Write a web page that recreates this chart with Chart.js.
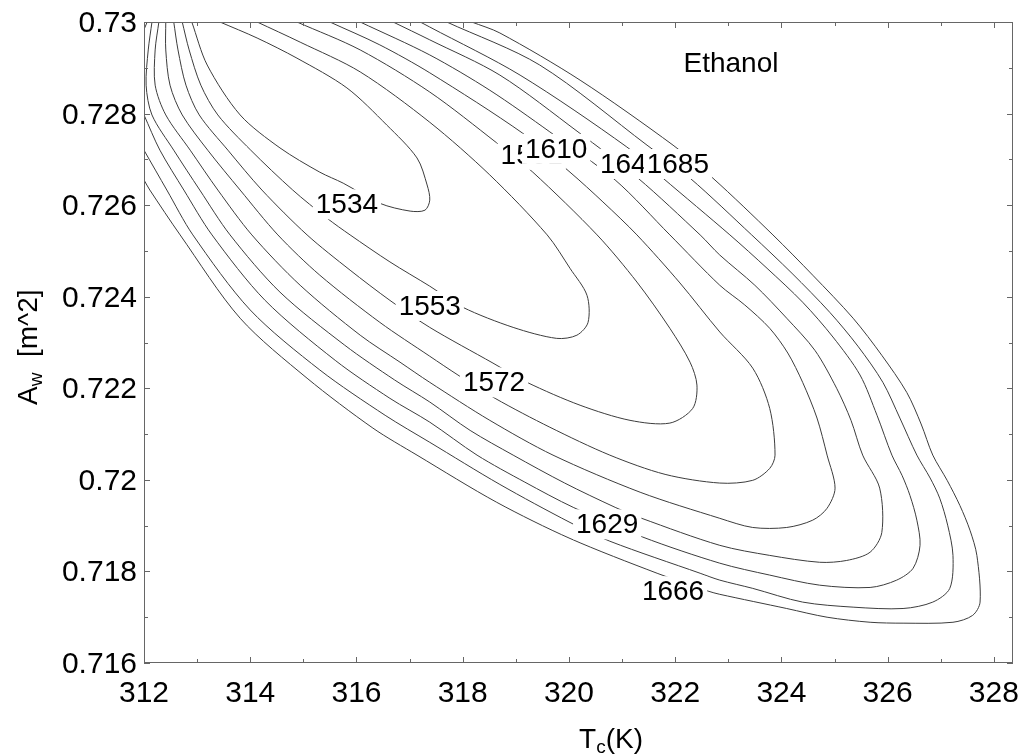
<!DOCTYPE html>
<html>
<head>
<meta charset="utf-8">
<title>Ethanol contour</title>
<script src="https://cdn.jsdelivr.net/npm/chart.js@4.4.1/dist/chart.umd.min.js"></script>
<style>
  html, body { margin: 0; padding: 0; background: #fff; }
  canvas { display: block; }
</style>
</head>
<body>
<canvas id="contourChart" width="1032" height="756"></canvas>
<script>
// contour levels and the traced lines, [Tc (K), Aw (m^2)]; [null, null] = line leaves the plot
const levels = [1534, 1553, 1572, 1591, 1610, 1629, 1647, 1666, 1685];

const c1534 = [[312.90,0.73000],[313.19,0.72906],[313.81,0.72797],[314.56,0.72725],[315.31,0.72672],[315.75,0.72648],[316.44,0.72604],[317.01,0.72587],[317.29,0.72589],[317.38,0.72611],[317.33,0.72644],[317.14,0.72703],[316.57,0.72775],[315.82,0.72856],[314.88,0.72921],[314.13,0.72965],[313.43,0.73000]];
const c1553 = [[312.72,0.73000],[312.85,0.72939],[313.07,0.72862],[313.39,0.72797],[314.01,0.72720],[314.80,0.72633],[315.44,0.72572],[315.88,0.72535],[316.63,0.72476],[317.38,0.72423],[318.00,0.72377],[318.95,0.72333],[319.77,0.72309],[320.15,0.72316],[320.36,0.72344],[320.34,0.72403],[320.02,0.72462],[319.59,0.72535],[318.51,0.72666],[317.38,0.72781],[316.07,0.72891],[314.94,0.72956],[314.13,0.73000]];
const c1572 = [[312.56,0.73000],[312.64,0.72939],[312.79,0.72862],[313.04,0.72797],[313.58,0.72720],[314.22,0.72633],[315.07,0.72535],[315.88,0.72458],[316.63,0.72392],[317.38,0.72333],[318.57,0.72255],[319.21,0.72213],[320.21,0.72163],[321.15,0.72130],[321.90,0.72124],[322.33,0.72156],[322.41,0.72207],[322.28,0.72257],[321.90,0.72331],[321.28,0.72432],[320.53,0.72535],[319.32,0.72672],[318.64,0.72736],[317.38,0.72847],[316.07,0.72939],[314.88,0.73000]];
const c1591 = [[312.41,0.73000],[312.41,0.72939],[312.49,0.72862],[312.72,0.72797],[313.20,0.72720],[313.81,0.72633],[314.52,0.72535],[315.31,0.72447],[316.44,0.72344],[317.38,0.72270],[317.91,0.72229],[318.61,0.72178],[319.64,0.72115],[320.77,0.72054],[321.81,0.72012],[322.84,0.71993],[323.46,0.71999],[323.78,0.72025],[323.88,0.72054],[323.78,0.72156],[323.46,0.72244],[322.84,0.72323],[322.09,0.72430],[321.28,0.72535],[320.64,0.72607],[320.02,0.72672],[319.13,0.72757],[317.38,0.72889],[316.44,0.72950],[315.50,0.73000]];
const c1610 = [[312.28,0.73000],[312.21,0.72939],[312.21,0.72862],[312.41,0.72797],[312.87,0.72720],[313.39,0.72633],[314.03,0.72535],[314.94,0.72425],[316.07,0.72316],[316.82,0.72257],[317.38,0.72213],[318.51,0.72130],[319.70,0.72054],[321.34,0.71973],[322.84,0.71916],[323.46,0.71896],[324.10,0.71896],[324.59,0.71912],[324.86,0.71938],[325.01,0.71982],[324.86,0.72054],[324.67,0.72135],[324.40,0.72213],[324.12,0.72277],[323.78,0.72331],[323.31,0.72382],[322.84,0.72425],[321.90,0.72535],[320.87,0.72655],[319.64,0.72760],[318.51,0.72851],[317.38,0.72928],[316.07,0.73000]];
const c1629 = [[312.15,0.73000],[312.08,0.72939],[312.04,0.72862],[312.15,0.72797],[312.56,0.72720],[313.05,0.72633],[313.62,0.72535],[314.56,0.72410],[315.78,0.72294],[316.72,0.72218],[317.38,0.72170],[318.14,0.72108],[318.95,0.72054],[319.92,0.71993],[320.87,0.71940],[321.37,0.71916],[322.84,0.71857],[323.78,0.71835],[324.72,0.71820],[325.23,0.71824],[325.67,0.71842],[325.89,0.71885],[325.85,0.71982],[325.53,0.72054],[325.31,0.72130],[325.04,0.72200],[324.63,0.72283],[324.10,0.72353],[323.50,0.72425],[322.84,0.72491],[322.47,0.72535],[321.30,0.72659],[320.17,0.72760],[318.70,0.72884],[317.38,0.72961],[316.69,0.73000]];
const c1647 = [[312.06,0.73000],[311.98,0.72978],[null,null],[312.00,0.72797],[312.30,0.72720],[312.75,0.72633],[313.28,0.72535],[314.28,0.72392],[315.60,0.72261],[316.63,0.72178],[317.38,0.72126],[318.27,0.72054],[319.17,0.71995],[320.08,0.71940],[321.39,0.71875],[322.84,0.71818],[323.78,0.71792],[324.72,0.71770],[325.67,0.71765],[326.17,0.71781],[326.48,0.71807],[326.61,0.71857],[326.55,0.71912],[326.42,0.71966],[326.27,0.72010],[326.08,0.72054],[325.80,0.72141],[325.48,0.72229],[324.97,0.72312],[324.40,0.72388],[323.73,0.72462],[323.03,0.72535],[321.77,0.72659],[321.09,0.72727],[319.08,0.72884],[317.38,0.72989],[317.20,0.73000]];
const c1666 = [[312.00,0.72720],[312.43,0.72633],[312.92,0.72535],[314.00,0.72371],[315.31,0.72240],[316.54,0.72141],[317.38,0.72082],[318.70,0.71990],[320.02,0.71907],[320.77,0.71866],[322.47,0.71796],[322.84,0.71781],[323.46,0.71763],[324.40,0.71733],[325.35,0.71722],[326.29,0.71719],[326.85,0.71733],[327.17,0.71763],[327.23,0.71835],[327.13,0.71901],[326.98,0.71960],[326.80,0.72004],[326.55,0.72054],[326.23,0.72135],[325.91,0.72213],[325.44,0.72292],[324.91,0.72366],[324.20,0.72451],[323.44,0.72535],[322.28,0.72659],[321.47,0.72731],[319.45,0.72906],[317.70,0.73000]];
const c1685 = [[312.00,0.72655],[312.11,0.72633],[312.68,0.72535],[313.81,0.72353],[315.07,0.72222],[316.31,0.72113],[317.14,0.72054],[318.64,0.71951],[320.02,0.71872],[321.66,0.71796],[322.62,0.71757],[322.84,0.71750],[324.10,0.71719],[324.86,0.71700],[325.67,0.71689],[326.29,0.71687],[327.23,0.71689],[327.60,0.71704],[327.74,0.71733],[327.68,0.71835],[327.55,0.71890],[327.36,0.71944],[327.12,0.71999],[326.85,0.72054],[326.63,0.72122],[326.36,0.72191],[325.89,0.72272],[325.35,0.72353],[324.59,0.72447],[323.84,0.72535],[322.71,0.72659],[321.96,0.72731],[320.21,0.72873],[318.70,0.72976],[318.17,0.73000]];

const contours = [c1534, c1553, c1572, c1591, c1610, c1629, c1647, c1666, c1685];

// inline labels as placed on the plot (later ones sit on top)
const labelLevels = [1534, 1553, 1572, 1591, 1610, 1647, 1685, 1629, 1666];
const labelT = [315.82, 317.38, 318.59, 319.30, 319.76, 321.17, 322.05, 320.72, 321.96];
const labelA = [0.72604, 0.72382, 0.72215, 0.72712, 0.72725, 0.72692, 0.72692, 0.71905, 0.71759];

const xTicks = [312, 314, 316, 318, 320, 322, 324, 326, 328];
const xMinor = [313, 315, 317, 319, 321, 323, 325, 327];
const yTicks = [0.716, 0.718, 0.72, 0.722, 0.724, 0.726, 0.728, 0.73];
const yTickLabels = ['0.716', '0.718', '0.72', '0.722', '0.724', '0.726', '0.728', '0.73'];
const yMinor = [0.717, 0.719, 0.721, 0.723, 0.725, 0.727, 0.729];

const FONT = '"Liberation Sans", Arial, Helvetica, sans-serif';

const axisPlugin = {
    id: 'axisPlugin',
    afterDatasetsDraw(chart) {
        const { ctx, scales: { x, y } } = chart;
        ctx.save();
        ctx.font = '28px ' + FONT;
        ctx.textAlign = 'center';
        ctx.textBaseline = 'alphabetic';
        labelLevels.forEach((lv, i) => {
            const px = x.getPixelForValue(labelT[i]);
            const py = y.getPixelForValue(labelA[i]);
            const w = ctx.measureText(String(lv)).width;
            ctx.fillStyle = '#fff';
            ctx.fillRect(px - w / 2 - 3, py - 14, w + 6, 30);
            ctx.fillStyle = '#000';
            ctx.fillText(String(lv), px, py + 10);
        });
        // series name
        ctx.fillText('Ethanol', x.getPixelForValue(323.05), y.getPixelForValue(0.72891));
        ctx.restore();
    },
    afterDraw(chart) {
        const { ctx, chartArea: a, scales: { x, y } } = chart;
        ctx.save();
        ctx.strokeStyle = '#666';
        ctx.lineWidth = 1;
        ctx.strokeRect(a.left + 0.5, a.top + 0.5, a.right - a.left - 1, a.bottom - a.top - 1);

        const tick = (x1, y1, x2, y2) => {
            ctx.beginPath();
            ctx.moveTo(x1, y1);
            ctx.lineTo(x2, y2);
            ctx.stroke();
        };
        xTicks.concat(xMinor).forEach(v => {
            const len = xTicks.includes(v) ? 6 : 4;
            const px = Math.round(x.getPixelForValue(v)) + 0.5;
            tick(px, a.bottom, px, a.bottom - len);
            tick(px, a.top, px, a.top + len);
        });
        yTicks.concat(yMinor).forEach(v => {
            const len = yTicks.includes(v) ? 6 : 4;
            const py = Math.round(y.getPixelForValue(v)) + 0.5;
            tick(a.left, py, a.left + len, py);
            tick(a.right, py, a.right - len, py);
        });

        ctx.fillStyle = '#000';
        ctx.font = '30px ' + FONT;
        ctx.textBaseline = 'alphabetic';
        ctx.textAlign = 'center';
        xTicks.forEach(v => ctx.fillText(String(v), x.getPixelForValue(v), a.bottom + 39));
        ctx.textAlign = 'right';
        yTicks.forEach((v, i) => ctx.fillText(yTickLabels[i], a.left - 7, y.getPixelForValue(v) + 10));

        // x title: T_c(K)
        ctx.textAlign = 'left';
        const big = '28px ' + FONT, small = '19px ' + FONT;
        ctx.font = big;
        const wT = ctx.measureText('T').width;
        const wK = ctx.measureText('(K)').width;
        ctx.font = small;
        const wc = ctx.measureText('c').width;
        const tx = 611 - (wT + wc + wK) / 2;
        ctx.font = big;
        ctx.fillText('T', tx, 748);
        ctx.font = small;
        ctx.fillText('c', tx + wT, 753);
        ctx.font = big;
        ctx.fillText('(K)', tx + wT + wc, 748);

        // y title: A_w  [m^2]
        ctx.translate(37, 405);
        ctx.rotate(-Math.PI / 2);
        ctx.font = big;
        const wA = ctx.measureText('A').width;
        ctx.fillText('A', 0, 0);
        ctx.font = small;
        const ww = ctx.measureText('w').width;
        ctx.fillText('w', wA, 5);
        ctx.font = big;
        ctx.fillText('  [m^2]', wA + ww, 0);
        ctx.restore();
    }
};

const ctx = document.getElementById('contourChart').getContext('2d');
new Chart(ctx, {
    type: 'scatter',
    data: {
        datasets: contours.map((pts, i) => ({
            label: String(levels[i]),
            data: pts.map(p => ({ x: p[0], y: p[1] })),
            showLine: true,
            spanGaps: false,
            borderColor: '#3c3c3c',
            borderWidth: 1,
            pointRadius: 0,
            tension: 0.3,
            fill: false
        }))
    },
    options: {
        responsive: false,
        animation: false,
        layout: { padding: { left: 144, top: 22, right: 19, bottom: 93 } },
        scales: {
            x: { type: 'linear', min: 312, max: 328.36, display: false },
            y: { type: 'linear', min: 0.716, max: 0.73, display: false }
        },
        plugins: {
            legend: { display: false },
            tooltip: { enabled: false }
        }
    },
    plugins: [axisPlugin]
});
</script>
</body>
</html>
